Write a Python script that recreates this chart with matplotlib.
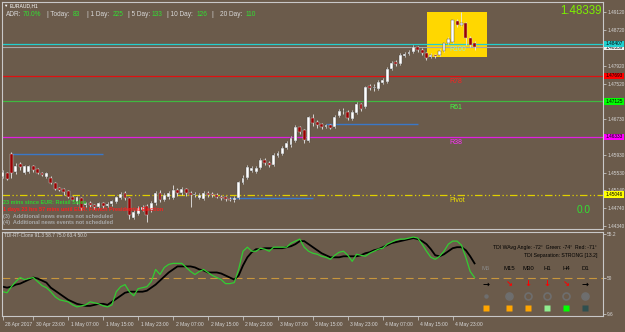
import matplotlib
matplotlib.use('Agg')
import matplotlib.pyplot as plt
from matplotlib.patches import Rectangle
import matplotlib.transforms as mtrans
import numpy as np

plt.rcParams['font.family'] = ['Liberation Sans', 'DejaVu Sans']

BG = '#6b5b4b'
FG = '#d8d8d8'
LIME = '#32e032'

# EURAUD H1, 28 Apr 16:00 .. 5 May 04:00
opens = [1.45441, 1.45530, 1.45954, 1.45552, 1.45731, 1.45530, 1.45552, 1.45686, 1.45619, 1.45530,
         1.45441, 1.45419, 1.45307, 1.45196, 1.45173, 1.45129, 1.44995, 1.44883, 1.44973, 1.44817,
         1.44861, 1.44817, 1.44772, 1.44861, 1.44794, 1.44839, 1.44883, 1.44973, 1.45084, 1.44973,
         1.44527, 1.44616, 1.44705, 1.44794, 1.44705, 1.44861, 1.45084, 1.44928, 1.44995, 1.44973,
         1.45151, 1.45084, 1.45173, 1.45084, 1.45040, 1.44973, 1.44950, 1.45084, 1.45062, 1.45040,
         1.44995, 1.44995, 1.44950, 1.44928, 1.44973, 1.45307, 1.45419, 1.45575, 1.45552, 1.45642,
         1.45820, 1.45753, 1.45709, 1.45909, 1.45954, 1.46088, 1.46155, 1.46244, 1.46556, 1.46489,
         1.46244, 1.46757, 1.46667, 1.46623, 1.46556, 1.46601, 1.46556, 1.46801, 1.46913, 1.46890,
         1.46734, 1.46868, 1.47068, 1.47002, 1.47470, 1.47426, 1.47403, 1.47537, 1.47559, 1.47849,
         1.48005, 1.47961, 1.48139, 1.48184, 1.48228, 1.48340, 1.48273, 1.48206, 1.48117, 1.48161,
         1.48161, 1.48251, 1.48429, 1.48451, 1.48920, 1.48831, 1.48875, 1.48541, 1.48429]
highs = [1.45597, 1.45552, 1.45998, 1.45753, 1.45775, 1.45709, 1.45709, 1.45709, 1.45642, 1.45552,
         1.45552, 1.45463, 1.45329, 1.45218, 1.45196, 1.45151, 1.45017, 1.45017, 1.44995, 1.44883,
         1.44906, 1.44839, 1.44883, 1.44883, 1.44883, 1.44928, 1.45017, 1.45106, 1.45129, 1.44995,
         1.44705, 1.44794, 1.44817, 1.44839, 1.44906, 1.45129, 1.45151, 1.45084, 1.45129, 1.45263,
         1.45196, 1.45218, 1.45196, 1.45129, 1.45106, 1.45084, 1.45129, 1.45129, 1.45106, 1.45084,
         1.45040, 1.45017, 1.44995, 1.45017, 1.45352, 1.45486, 1.45709, 1.45686, 1.45686, 1.45865,
         1.45865, 1.45798, 1.45976, 1.46021, 1.46132, 1.46244, 1.46355, 1.46601, 1.46578, 1.46511,
         1.46801, 1.46846, 1.46712, 1.46645, 1.46623, 1.46623, 1.46824, 1.46957, 1.46979, 1.46935,
         1.46935, 1.47113, 1.47091, 1.47470, 1.47515, 1.47515, 1.47604, 1.47649, 1.47894, 1.48028,
         1.48050, 1.48206, 1.48228, 1.48273, 1.48385, 1.48362, 1.48318, 1.48228, 1.48206, 1.48184,
         1.48295, 1.48451, 1.48563, 1.48964, 1.48964, 1.49120, 1.48897, 1.48585, 1.48474]
lows = [1.45419, 1.45374, 1.45419, 1.45508, 1.45597, 1.45508, 1.45530, 1.45552, 1.45508, 1.45463,
        1.45419, 1.45285, 1.45151, 1.45129, 1.45040, 1.44973, 1.44906, 1.44839, 1.44705, 1.44772,
        1.44772, 1.44727, 1.44750, 1.44750, 1.44772, 1.44794, 1.44861, 1.44950, 1.44928, 1.44504,
        1.44504, 1.44594, 1.44683, 1.44437, 1.44660, 1.44817, 1.44883, 1.44906, 1.44950, 1.44950,
        1.45017, 1.45040, 1.45017, 1.44772, 1.44995, 1.44950, 1.44928, 1.44995, 1.44995, 1.44973,
        1.44928, 1.44906, 1.44906, 1.44883, 1.44950, 1.45285, 1.45396, 1.45552, 1.45530, 1.45619,
        1.45709, 1.45664, 1.45686, 1.45887, 1.45932, 1.46065, 1.46110, 1.46221, 1.46400, 1.46199,
        1.46221, 1.46578, 1.46534, 1.46511, 1.46534, 1.46511, 1.46534, 1.46779, 1.46846, 1.46712,
        1.46712, 1.46846, 1.46913, 1.46979, 1.47381, 1.47359, 1.47381, 1.47515, 1.47537, 1.47827,
        1.47916, 1.47939, 1.48117, 1.48161, 1.48206, 1.48228, 1.48161, 1.48050, 1.48095, 1.48095,
        1.48139, 1.48228, 1.48407, 1.48429, 1.48786, 1.48808, 1.48385, 1.48340, 1.48273]
closes = [1.45552, 1.45396, 1.45530, 1.45686, 1.45664, 1.45686, 1.45686, 1.45597, 1.45530, 1.45486,
          1.45530, 1.45307, 1.45173, 1.45151, 1.45106, 1.44995, 1.44928, 1.44995, 1.44750, 1.44861,
          1.44817, 1.44772, 1.44861, 1.44794, 1.44839, 1.44906, 1.44995, 1.45062, 1.44973, 1.44594,
          1.44660, 1.44750, 1.44772, 1.44594, 1.44861, 1.45084, 1.44928, 1.45040, 1.45084, 1.45151,
          1.45084, 1.45173, 1.45084, 1.45040, 1.45062, 1.45040, 1.45084, 1.45040, 1.45040, 1.44995,
          1.44973, 1.44950, 1.44928, 1.44973, 1.45329, 1.45419, 1.45664, 1.45642, 1.45642, 1.45820,
          1.45753, 1.45709, 1.45932, 1.45976, 1.46088, 1.46199, 1.46311, 1.46556, 1.46444, 1.46266,
          1.46779, 1.46645, 1.46601, 1.46556, 1.46601, 1.46534, 1.46779, 1.46913, 1.46913, 1.46757,
          1.46890, 1.47068, 1.46957, 1.47448, 1.47426, 1.47448, 1.47559, 1.47604, 1.47849, 1.47983,
          1.47961, 1.48161, 1.48184, 1.48228, 1.48340, 1.48273, 1.48206, 1.48095, 1.48161, 1.48139,
          1.48251, 1.48429, 1.48518, 1.48942, 1.48831, 1.48875, 1.48541, 1.48385, 1.48340]

# TDI lines (indicator window)
tdi_black = [41, 40, 41, 43, 44, 46, 48, 50, 49, 47, 45, 40, 37, 34, 31, 28, 26, 24, 23, 22,
             22, 23, 24, 24, 23, 26, 29, 32, 35, 36, 36, 36, 36, 37, 40, 43, 47, 51, 55, 58,
             61, 61, 61, 61, 60, 58, 57, 55, 55, 55, 54, 52, 50, 48, 52, 62, 70, 75, 78, 78,
             79, 79, 79, 79, 79, 80, 81, 83, 86, 86, 83, 80, 77, 74, 72, 70, 70, 70, 71, 71,
             71, 71, 72, 74, 75, 77, 78, 80, 82, 84, 85, 86, 87, 88, 89, 88, 86, 83, 78, 72,
             71, 73, 76, 79, 80, 80, 77, 71, 64]
tdi_green = [36, 35, 41, 46, 50, 48, 49, 50, 46, 42, 40, 36, 31, 28, 27, 26, 23, 21, 22, 23,
             26, 25, 24, 22, 21, 23, 36, 41, 43, 36, 32, 39, 40, 41, 46, 58, 53, 60, 63, 64,
             64, 64, 60, 56, 53, 56, 58, 55, 52, 50, 48, 44, 44, 45, 58, 76, 80, 76, 76, 79,
             78, 76, 80, 80, 80, 80, 84, 86, 88, 80, 76, 74, 73, 71, 70, 68, 72, 75, 76, 72,
             66, 73, 72, 71, 74, 76, 78, 79, 83, 85, 87, 88, 88, 89, 90, 89, 83, 76, 70, 68,
             71, 76, 83, 86, 86, 82, 70, 56, 50]

time_ticks = [0, 7, 15, 23, 31, 39, 47, 55, 63, 71, 79, 87, 95, 103]
time_labels = ['28 Apr 2017', '30 Apr 23:00', '1 May 07:00', '1 May 15:00', '1 May 23:00',
               '2 May 07:00', '2 May 15:00', '2 May 23:00', '3 May 07:00', '3 May 15:00',
               '3 May 23:00', '4 May 07:00', '4 May 15:00', '4 May 23:00']
price_ticks = [1.4912, 1.4872, 1.4832, 1.4792, 1.4752, 1.4712, 1.4673, 1.4633,
               1.4593, 1.4553, 1.4514, 1.4474, 1.4434]
# tick labels hidden in the reference under the coloured price tags
covered_ticks = [1.4832, 1.4712, 1.4633]

level_names = ['R100', 'R78', 'R61', 'R38', 'Pivot']
level_prices = [1.48407, 1.47693, 1.47125, 1.46333, 1.45046]
level_colors = ['#20d0d0', '#e01010', '#40b840', '#e020e0', '#e0d000']
level_text = ['#9fe8c0', '#ff2020', '#40ff40', '#ff30ff', '#f0e000']
level_tags = ['#20d0d0', '#ff0000', '#00ff00', '#ff00ff', '#ffff00']
bid = 1.48339

blue_start = [2, 52, 74]
blue_end = [23, 71, 95]
blue_price = [1.45954, 1.44973, 1.46623]

box_bars = (97.1, 110.8)
box_prices = (1.48117, 1.49120)

news = ['23 mins since EUR: Retail Sales',
        '1 days 23 hrs 57 mins until EUR: French Presidential Election',
        '(3)  Additional news events not scheduled',
        '(4)  Additional news events not scheduled']
news_colors = ['#30d030', '#ff2020', '#a8a8a8', '#a8a8a8']

tf_names = ['M5', 'M15', 'M30', 'H1', 'H4', 'D1']
tf_arrows = ['→', '↘', '↓', '↓', '↘', '→']
tf_arrow_col = ['black', 'red', 'red', 'red', 'red', 'black']
tf_dot_size = [2, 5, 5, 5, 5, 5]
tf_dot_fill = [True, True, False, False, False, True]
tf_squares = ['#ffa500', '#ffa500', '#ffa500', '#90ee90', '#00ff00', '#2f4f4f']

W, H = 625, 332
fig = plt.figure(figsize=(W / 100, H / 100), dpi=100, facecolor=BG)


def rect(x0, y0, x1, y1):
    return [x0 / W, 1 - y1 / H, (x1 - x0) / W, (y1 - y0) / H]


def ftext(x, y, s, **kw):
    fig.text(x / W, 1 - y / H, s, **kw)


def fmark(x, y, **kw):
    fig.add_artist(plt.Line2D([x / W], [1 - y / H], transform=fig.transFigure, ls='none', **kw))


ax = fig.add_axes(rect(2, 2, 603, 229), facecolor=BG)
ax2 = fig.add_axes(rect(2, 232, 603, 316), facecolor=BG)
for a in (ax, ax2):
    a.set_xlim(-0.16, 137.4)
    for sp in a.spines.values():
        sp.set_color('#c8c8c8')
        sp.set_linewidth(0.8)
    a.yaxis.tick_right()
    a.tick_params(axis='y', colors=FG, labelsize=3.4, length=2, width=0.5, pad=1)

# ---- price window
o = np.array(opens); h = np.array(highs); l = np.array(lows); c = np.array(closes)
idx = np.arange(len(c))
up = c >= o
ax.add_patch(Rectangle((box_bars[0], box_prices[0]), box_bars[1] - box_bars[0],
                       box_prices[1] - box_prices[0], fc='#ffd700', ec='none', zorder=1))
for p, col in zip(level_prices, level_colors):
    if col == '#e0d000':
        ax.axhline(p, color=col, lw=0.9, ls=(0, (6, 2, 1, 2, 1, 2)), zorder=2)
    else:
        ax.axhline(p, color=col, lw=0.9, zorder=2)
ax.axhline(bid, color='#a8a8a8', lw=0.8, zorder=2)
ax.hlines(blue_price, blue_start, blue_end, color='#3a78c8', lw=1.0, zorder=2)

ax.vlines(idx, l, h, color='#e8e8e8', lw=0.6, zorder=3)
body_lo = np.minimum(o, c)
body_h = np.maximum(np.abs(c - o), 0.00003)
ax.bar(idx[up], body_h[up], bottom=body_lo[up], width=0.66, color='white',
       edgecolor='#404040', lw=0.3, zorder=4)
ax.bar(idx[~up], body_h[~up], bottom=body_lo[~up], width=0.66, color='#9a0000',
       edgecolor='#d0d0d0', lw=0.3, zorder=4)

for name, p, col in zip(level_names, level_prices, level_text):
    ax.text(102.3, p - 0.0005, name, color=col, fontsize=5, va='top', ha='left', zorder=5)

ax.set_ylim(1.44281, 1.49343)
ax.set_yticks(price_ticks)
ax.set_yticklabels(['' if t in covered_ticks else '%.5f' % t for t in price_ticks])
ax.set_xticks([])

ytr = ax.get_yaxis_transform()
tag_kw = dict(transform=ytr, fontsize=3.4, va='center', ha='left', clip_on=False)
ax.text(1.004, bid, '%.5f' % bid, color='black', zorder=6,
        bbox=dict(boxstyle='square,pad=0.2', fc='#f0f0f0', ec='none'), **tag_kw)
for p, col in zip(level_prices, level_tags):
    ax.text(1.004, p, '%.5f' % p, color='black', zorder=7,
            bbox=dict(boxstyle='square,pad=0.2', fc=col, ec='none'), **tag_kw)

# ---- indicator window
ax2.axhline(50, color='#c8963c', lw=0.8, ls=(0, (7, 4)))
ax2.plot(idx, tdi_black, color='black', lw=1.3)
ax2.plot(idx, tdi_green, color='#32cd32', lw=0.9)
ax2.set_ylim(12, 95)
ax2.set_yticks([93, 50, 14])
ax2.set_yticklabels(['55.2', '50', '9.6'])
ax2.set_xticks(time_ticks)
ax2.set_xticklabels(time_labels)
ax2.tick_params(axis='x', colors=FG, labelsize=3.6, length=3, width=0.5, pad=1)
shift = mtrans.ScaledTranslation(2.5 / 100, 0, fig.dpi_scale_trans)
for lab in ax2.get_xticklabels():
    lab.set_ha('left')
    lab.set_transform(lab.get_transform() + shift)

# ---- text overlays
ftext(3, 6, '▼', color='white', fontsize=3.2, va='center')
ftext(10, 6, 'EURAUD,H1', color='white', fontsize=3.6, va='center')
adr = [(6, 'ADR:', FG), (23, '70.0%', LIME), (47, '| Today:', FG), (73, '83', LIME),
       (87, '| 1 Day:', FG), (113, '225', LIME), (128, '| 5 Day:', FG), (152, '133', LIME),
       (167, '| 10 Day:', FG), (197, '126', LIME), (211, '|', FG), (220, '20 Day:', FG),
       (246, '110', LIME)]
for x, s, col in adr:
    ftext(x, 15, s, color=col, fontsize=4.7, va='center')
ftext(602, 11, '%.5f' % bid, color='#7cf000', fontsize=8.3, va='center', ha='right')
ftext(591, 210, '0.0', color=LIME, fontsize=7.3, va='center', ha='right')
for k, (s, col) in enumerate(zip(news, news_colors)):
    ftext(3, 202.5 + k * 6.8, s, color=col, fontsize=4.0, fontweight='bold', va='center')

ftext(4, 235.5, 'TDI-RT-Clone 91.3 58.7 75.0 63.4 50.0', color=FG, fontsize=3.4, va='center')
ftext(597, 247, 'TDI WAvg Angle: -72°  Green: -74°  Red: -71°', color='black',
      fontsize=3.7, va='center', ha='right')
ftext(597, 255, 'TDI Separation: STRONG [13.2]', color='black', fontsize=3.7,
      va='center', ha='right')
tf_x = [486, 509, 528, 547, 566, 585]
for x, name, ar, acol, ds, df, sq in zip(tf_x, tf_names, tf_arrows, tf_arrow_col,
                                         tf_dot_size, tf_dot_fill, tf_squares):
    ftext(x, 269, name, color='#8a8a8a' if name == 'M5' else 'black', fontsize=4.3,
          va='center', ha='center')
    ftext(x, 284, ar, color=acol, fontsize=6, fontweight='bold', va='center', ha='center',
          family='DejaVu Sans')
    fmark(x, 296, marker='o', ms=ds, mfc='#6e6e6e' if df else 'none', mec='#6e6e6e', mew=1.2)
    fmark(x, 308, marker='s', ms=4.2, mfc=sq, mec='none')

fig.savefig('out.png', dpi=100, facecolor=BG)
